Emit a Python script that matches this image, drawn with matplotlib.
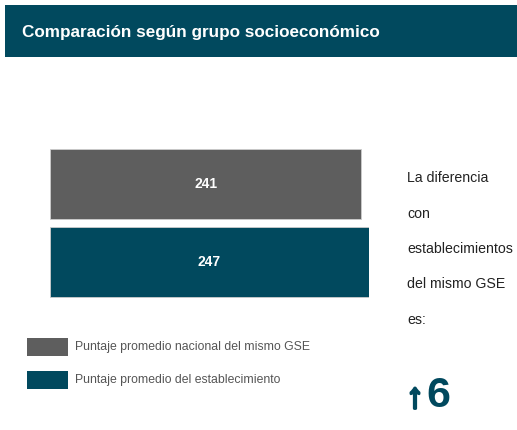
import matplotlib.pyplot as plt
import matplotlib.patheffects as pe
from matplotlib.patches import Rectangle

# Data
labels = ["Puntaje promedio nacional del mismo GSE", "Puntaje promedio del establecimiento"]
scores = [241, 247]
colours = ["#5E5E5E", "#01495E"]
difference = scores[1] - scores[0]

font = "Liberation Sans"

W, H = 517, 430
fig = plt.figure(figsize=(W / 100, H / 100), dpi=100)
fig.patch.set_facecolor("white")

# Header band
fig.add_artist(Rectangle((5 / W, 1 - 57 / H), 1 - 5 / W, 52 / H, transform=fig.transFigure,
                         facecolor="#01495E", edgecolor="none"))
fig.text(22 / W, 1 - 32 / H, "Comparación según grupo socioeconómico", color="white",
         fontsize=12.3, fontweight="bold", family=font, va="center", ha="left")

# Bars: axes spanning x=50..369 px with xlim 0..247
ax = fig.add_axes([50 / W, 1 - 301 / H, 319 / W, 156 / H])
ypos = [0, 1]
ax.barh(ypos, scores, height=0.9, color=colours, edgecolor="#CCCCCC", linewidth=0.6)
for y, v in zip(ypos, scores):
    ax.text(v / 2, y, str(v), color="white", ha="center", va="center",
            fontsize=10, fontweight="bold", family=font)
ax.set_xlim(0, max(scores))
ax.set_ylim(1.5, -0.5)
ax.axis("off")

# Legend
for i, (lab, col) in enumerate(zip(labels, colours)):
    yc = 347 + i * 33
    fig.add_artist(Rectangle((27 / W, 1 - (yc + 9) / H), 41 / W, 18 / H,
                             transform=fig.transFigure, facecolor=col, edgecolor="none"))
    fig.text(75 / W, 1 - yc / H, lab, color="#555555", fontsize=8.8, family=font,
             va="center", ha="left")

# Side text
lines = ["La diferencia", "con", "establecimientos", "del mismo GSE", "es:"]
for i, t in enumerate(lines):
    fig.text(407 / W, 1 - (178 + i * 35.5) / H, t, color="#222222", fontsize=10.2,
             family=font, va="center", ha="left")
fig.text(415 / W, 1 - 398 / H, "↑", color="#01495E", fontsize=25,
         fontweight="bold", family=[font, "DejaVu Sans"], va="center", ha="center",
         path_effects=[pe.withStroke(linewidth=2, foreground="#01495E")])
fig.text(426 / W, 1 - 396 / H, str(difference), color="#01495E", fontsize=31,
         fontweight="bold", family=font, va="center", ha="left")

fig.savefig("out.png", dpi=100)
